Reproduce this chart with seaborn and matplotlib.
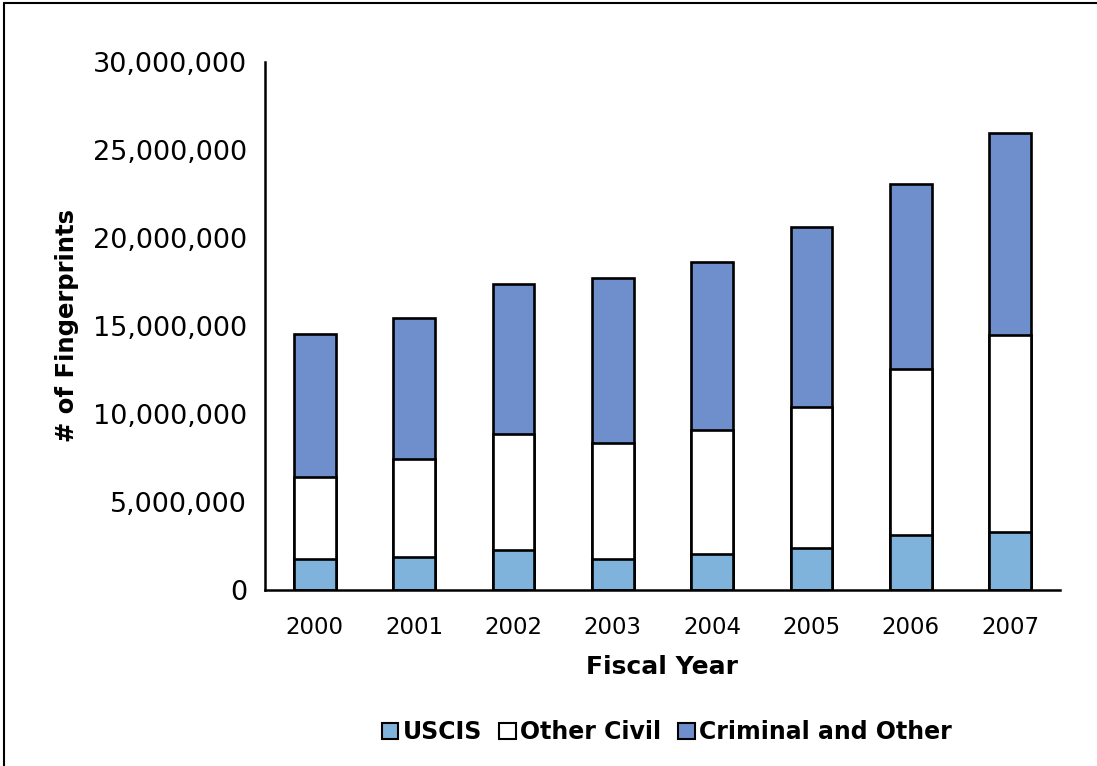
import numpy as np
import pandas as pd
import matplotlib
matplotlib.use("Agg")
import matplotlib.pyplot as plt
import seaborn as sns
from matplotlib.patches import Patch
from matplotlib.lines import Line2D
from matplotlib.ticker import FuncFormatter, FixedLocator

# Fingerprints by fiscal year
years = ["2000", "2001", "2002", "2003", "2004", "2005", "2006", "2007"]
uscis = [1.76e6, 1.85e6, 2.27e6, 1.76e6, 2.05e6, 2.38e6, 3.14e6, 3.32e6]
other_civil = [4.67e6, 5.60e6, 6.61e6, 6.59e6, 7.02e6, 8.04e6, 9.39e6, 11.19e6]
criminal_other = [8.10e6, 8.02e6, 8.49e6, 9.35e6, 9.56e6, 10.19e6, 10.51e6, 11.45e6]

df = pd.DataFrame({
    "year": years,
    "USCIS": uscis,
    "Other Civil": other_civil,
    "Criminal and Other": criminal_other,
})
df["civil_top"] = df["USCIS"] + df["Other Civil"]
df["total"] = df["civil_top"] + df["Criminal and Other"]

c_uscis = "#80b3dc"
c_civil = "#ffffff"
c_crim = "#6f8fcc"

sns.set_style("white")
plt.rcParams["font.family"] = ["DejaVu Sans"]
plt.rcParams["text.color"] = "black"
plt.rcParams["axes.labelcolor"] = "black"
plt.rcParams["xtick.color"] = "black"
plt.rcParams["ytick.color"] = "black"

fig = plt.figure(figsize=(10.97, 7.66), dpi=100)
ax = fig.add_axes([0.2416, 0.2298, 0.7244, 0.6893])

bw = 0.42
lw = 1.9
# stacked bars drawn back to front
sns.barplot(data=df, x="year", y="total", color=c_crim, width=bw,
            edgecolor="black", linewidth=lw, saturation=1, ax=ax)
sns.barplot(data=df, x="year", y="civil_top", color=c_civil, width=bw,
            edgecolor="black", linewidth=lw, saturation=1, ax=ax)
sns.barplot(data=df, x="year", y="USCIS", color=c_uscis, width=bw,
            edgecolor="black", linewidth=lw, saturation=1, ax=ax)

ax.set_ylim(0, 30e6)
ax.set_xlim(-0.5, len(years) - 0.5)
ax.set_yticks(np.arange(0, 30e6 + 1, 5e6))
ax.yaxis.set_major_formatter(FuncFormatter(lambda v, p: f"{int(v):,}"))

# category-boundary tick marks like Excel
ax.xaxis.set_minor_locator(FixedLocator(np.arange(-0.5, len(years), 1.0)))
ax.tick_params(axis="x", which="major", length=0, labelsize=16.5, pad=19)
ax.tick_params(axis="x", which="minor", length=8, width=1.5, direction="out",
               color="black")
ax.tick_params(axis="y", length=7, width=1.5, direction="out", color="black",
               labelsize=19.5, pad=6)

for s in ["top", "right"]:
    ax.spines[s].set_visible(False)
for s in ["left", "bottom"]:
    ax.spines[s].set_color("black")
    ax.spines[s].set_linewidth(1.8)

ax.set_xlabel("Fiscal Year", fontsize=18, fontweight="bold", labelpad=11)
ax.set_ylabel("# of Fingerprints", fontsize=17.5, fontweight="bold", labelpad=10)

handles = [Patch(facecolor=c_uscis, edgecolor="black", linewidth=1.5),
           Patch(facecolor=c_civil, edgecolor="black", linewidth=1.5),
           Patch(facecolor=c_crim, edgecolor="black", linewidth=1.5)]
fig.legend(handles, ["USCIS", "Other Civil", "Criminal and Other"],
           loc="center", bbox_to_anchor=(0.608, 0.044), ncol=3, frameon=False,
           prop={"size": 17, "weight": "bold"}, handlelength=0.7,
           handleheight=0.7, handletextpad=0.2, columnspacing=0.7)

# partial outer frame (left and top edges)
fig.add_artist(Line2D([0.004, 0.004], [0, 0.996], color="black", lw=1.5,
                      transform=fig.transFigure))
fig.add_artist(Line2D([0.004, 1], [0.996, 0.996], color="black", lw=1.5,
                      transform=fig.transFigure))

fig.savefig("out.png", dpi=100)
